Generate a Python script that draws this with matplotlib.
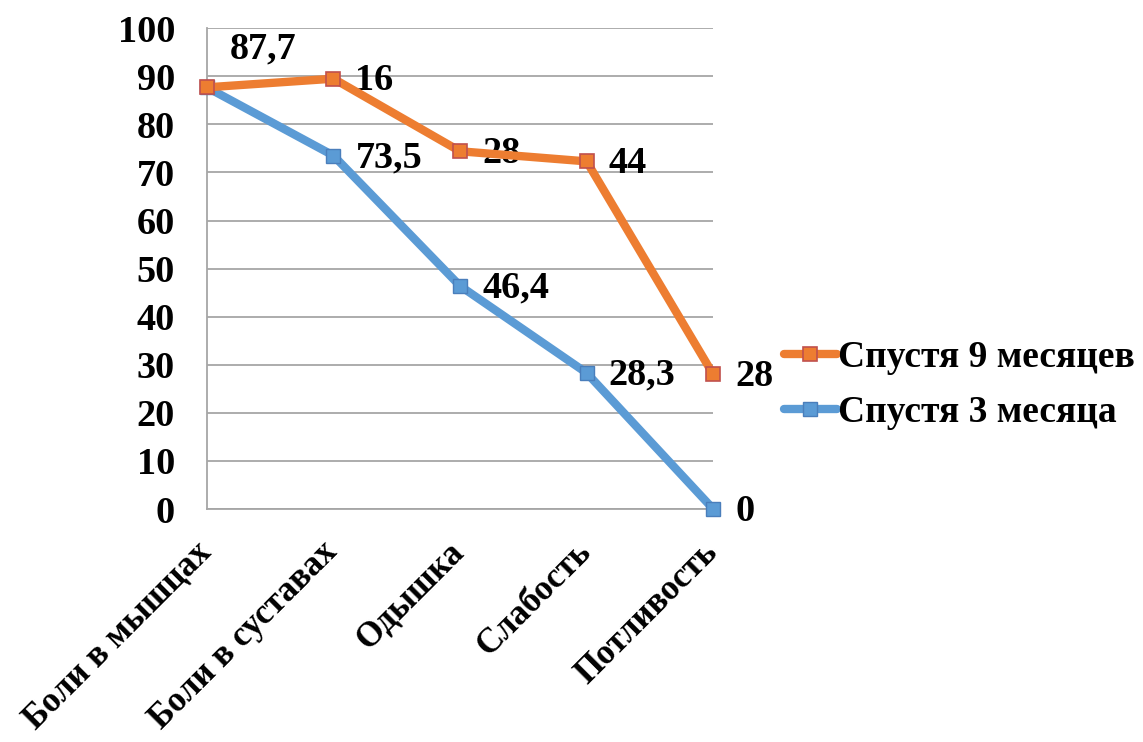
import numpy as np
import matplotlib.pyplot as plt
from matplotlib.transforms import ScaledTranslation

# symptom categories and values
categories = ["Боли в мышцах", "Боли в суставах", "Одышка", "Слабость", "Потливость"]
after_3m = [87.7, 73.5, 46.4, 28.3, 0]
after_9m = [0, 16, 28, 44, 28]     # stacked on top of the 3-month series
label_3m = "Спустя 3 месяца"
label_9m = "Спустя 9 месяцев"

blue = "#5B9BD5"
orange = "#ED7D31"

plt.rcParams['font.family'] = ['Liberation Serif', 'DejaVu Serif']
plt.rcParams['font.weight'] = 'bold'

fig = plt.figure(figsize=(11.43, 7.42), dpi=100)
ax = fig.add_axes([0.181, 0.314, 0.443, 0.648])

x = np.arange(len(categories))
y3 = np.array(after_3m)
y9 = y3 + np.array(after_9m)

ax.plot(x, y3, color=blue, lw=6, marker='s', ms=10, mfc=blue, mec='#4A7EBB',
        mew=1, label=label_3m, zorder=3, solid_capstyle='round', clip_on=False)
ax.plot(x, y9, color=orange, lw=6, marker='s', ms=10, mfc=orange, mec='#C0504D',
        mew=1.2, label=label_9m, zorder=4, solid_capstyle='round', clip_on=False)

def fmt(v):
    return f"{v:g}".replace('.', ',')

fs = 27.5
# data labels, mostly to the right of the points
ax.annotate(fmt(after_3m[0]), (x[0], y3[0]), xytext=(23, 38), textcoords='offset pixels',
            ha='left', va='center', fontsize=fs, fontweight='bold')
for i in range(1, len(x)):
    ax.annotate(fmt(after_3m[i]), (x[i], y3[i]), xytext=(22, -2), textcoords='offset pixels',
                ha='left', va='center', fontsize=fs, fontweight='bold')
    ax.annotate(fmt(after_9m[i]), (x[i], y9[i]), xytext=(22, -2), textcoords='offset pixels',
                ha='left', va='center', fontsize=fs, fontweight='bold')

ax.set_xlim(0, len(x) - 1)
ax.set_ylim(0, 100)
ax.set_yticks(np.arange(0, 101, 10))
ax.set_xticks(x)
ax.set_xticklabels(categories, rotation=45, ha='right', va='top',
                   rotation_mode='anchor', fontsize=25, fontweight='bold')
ax.tick_params(axis='x', length=0, pad=19)
ax.tick_params(axis='y', length=0, pad=23, labelsize=fs)
for t in ax.get_yticklabels():
    t.set_fontweight('bold')
# nudge the slanted category names a bit to the left
shift = ScaledTranslation(-9 / 72, 0, fig.dpi_scale_trans)
for t in ax.get_xticklabels():
    t.set_transform(t.get_transform() + shift)

ax.grid(axis='y', color='#A6A6A6', lw=1.3)
ax.set_axisbelow(True)
for s in ['top', 'right']:
    ax.spines[s].set_visible(False)
ax.spines['left'].set_color('#A6A6A6')
ax.spines['bottom'].set_color('#A6A6A6')
ax.spines['left'].set_linewidth(1.3)
ax.spines['bottom'].set_linewidth(1.3)

handles, labels = ax.get_legend_handles_labels()
fig.legend(handles[::-1], labels[::-1], loc='center left',
           bbox_to_anchor=(0.686, 0.481), frameon=False,
           prop={'size': 27, 'weight': 'bold'}, handlelength=1.4,
           handletextpad=0.05, labelspacing=0.55, borderaxespad=0,
           borderpad=0, handleheight=0.7)

plt.savefig("out.png", dpi=100)
